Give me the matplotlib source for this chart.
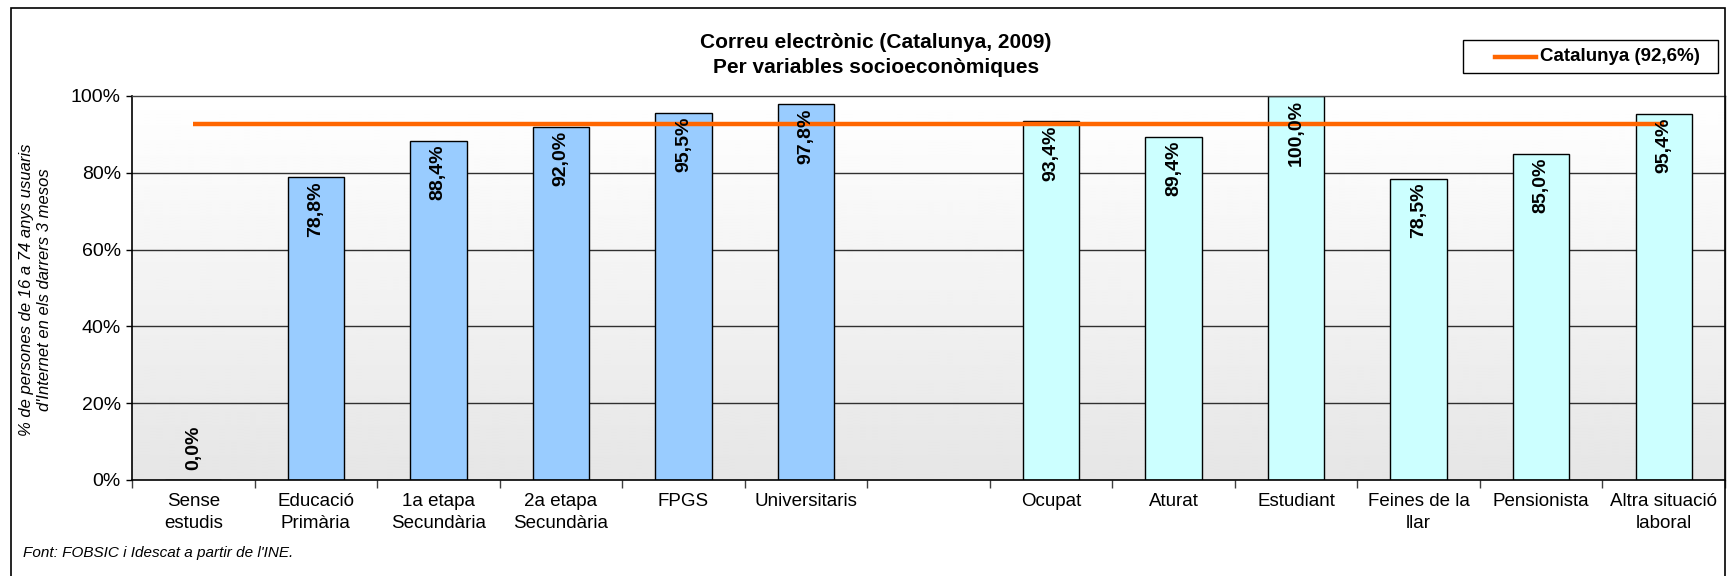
#!/usr/bin/env python3
"""
Correu electronic (Catalunya, 2009) per variables socioeconomiques.

Bar chart with two groups of categories and a horizontal reference
line for the Catalan average.
"""

import numpy as np
import matplotlib
matplotlib.use('Agg')
import matplotlib.pyplot as plt
from matplotlib.lines import Line2D
from matplotlib.patches import Rectangle

# Data (empty category keeps the gap between the two groups)
categories = [
    'Sense\nestudis', 'Educació\nPrimària', '1a etapa\nSecundària',
    '2a etapa\nSecundària', 'FPGS', 'Universitaris', '',
    'Ocupat', 'Aturat', 'Estudiant', 'Feines de la\nllar',
    'Pensionista', 'Altra situació\nlaboral',
]
values = [0.0, 78.8, 88.4, 92.0, 95.5, 97.8, None,
          93.4, 89.4, 100.0, 78.5, 85.0, 95.4]
groups = ['estudis'] * 6 + [''] + ['laboral'] * 6
catalunya = 92.6
yticks = [0, 20, 40, 60, 80, 100]

title = 'Correu electrònic (Catalunya, 2009)\nPer variables socioeconòmiques'
ylabel = "% de persones de 16 a 74 anys usuaris\nd'Internet en els darrers 3 mesos"
legend_label = 'Catalunya (92,6%)'
source = "Font: FOBSIC i Idescat a partir de l'INE."

group_colors = {'estudis': '#99CCFF', 'laboral': '#CCFFFF'}
LINE_COLOR = '#FF6600'
FONT = 'Liberation Sans'
W, H = 1727, 576


def fmt(v):
    """Catalan style percentage with comma decimal."""
    return f'{v:.1f}%'.replace('.', ',')


def fx(px):
    return px / W


def fy(px):
    return 1 - px / H


def main():
    plt.rcParams['font.family'] = [FONT, 'DejaVu Sans']

    fig = plt.figure(figsize=(W / 100, H / 100), dpi=100)
    ax = fig.add_axes([fx(132), fy(480), (1725 - 132) / W, (480 - 96) / H])

    n = len(categories)
    x = np.arange(n)
    ax.set_xlim(-0.5, n - 0.5)
    ax.set_ylim(0, 100)

    # Gradient background: white at the top, light grey at the bottom
    grad = np.linspace(0.90, 1.0, 256).reshape(-1, 1)
    ax.imshow(grad, cmap='gray', vmin=0, vmax=1, aspect='auto',
              extent=(-0.5, n - 0.5, 0, 100), origin='lower', zorder=0)

    for y in yticks[1:-1]:
        ax.axhline(y, color='#303030', lw=1.0, zorder=1)

    # Bars
    for xi, v, g in zip(x, values, groups):
        if v is None:
            continue
        ax.bar(xi, v, width=0.46, color=group_colors[g],
               edgecolor='black', linewidth=1.0, zorder=2)
        if v > 0:
            ax.text(xi, v - 1.0, fmt(v), rotation=90, ha='center', va='top',
                    fontsize=14, fontweight='bold', zorder=4)
        else:
            ax.text(xi, 2.5, fmt(v), rotation=90, ha='center', va='bottom',
                    fontsize=14, fontweight='bold', zorder=4)

    # Reference line from the first to the last category
    ax.plot([x[0], x[-1]], [catalunya, catalunya], color=LINE_COLOR,
            lw=3.2, solid_capstyle='butt', zorder=3)

    # Axes styling
    ax.set_yticks(yticks)
    ax.set_yticklabels([f'{t}%' for t in yticks], fontsize=14)
    ax.tick_params(axis='y', direction='out', length=4, width=1, pad=4)
    ax.set_xticks(x)
    ax.set_xticklabels(categories, fontsize=13.5, linespacing=1.45)
    ax.tick_params(axis='x', which='major', length=0, pad=9)
    ax.set_xticks(np.arange(-0.5, n, 1.0), minor=True)
    ax.tick_params(axis='x', which='minor', direction='out', length=6,
                   width=1, color='#404040')
    for side in ['left', 'bottom']:
        ax.spines[side].set_color('black')
        ax.spines[side].set_linewidth(1.2)
    for side in ['top', 'right']:
        ax.spines[side].set_color('#404040')
        ax.spines[side].set_linewidth(1.0)

    # Titles and texts
    fig.text(fx(876), fy(55), title, ha='center', va='center',
             fontsize=15, fontweight='bold', linespacing=1.45)
    fig.text(fx(36), fy(290), ylabel, ha='center', va='center',
             rotation=90, fontsize=12, style='italic', linespacing=1.25)
    fig.text(fx(23), fy(553), source, ha='left', va='center',
             fontsize=11, style='italic')

    # Legend box drawn by hand to keep the Excel spacing
    fig.patches.append(Rectangle((fx(1463), fy(73)), (1718 - 1463) / W,
                                 (73 - 40) / H, transform=fig.transFigure,
                                 facecolor='white', edgecolor='black',
                                 linewidth=1.0, zorder=5))
    fig.lines.append(Line2D([fx(1495), fx(1536)], [fy(56.5), fy(56.5)],
                            transform=fig.transFigure, color=LINE_COLOR,
                            lw=3.2, zorder=6))
    fig.text(fx(1540), fy(56.5), legend_label, ha='left', va='center',
             fontsize=13.5, fontweight='bold', zorder=6)

    # Outer chart frame (bottom edge runs off the image)
    fig.patches.append(Rectangle((fx(11), -0.05), (1725 - 11) / W,
                                 1.05 - 8 / H, transform=fig.transFigure,
                                 fill=False, edgecolor='black',
                                 linewidth=1.2))

    fig.savefig('out.png', dpi=100)


if __name__ == '__main__':
    main()
